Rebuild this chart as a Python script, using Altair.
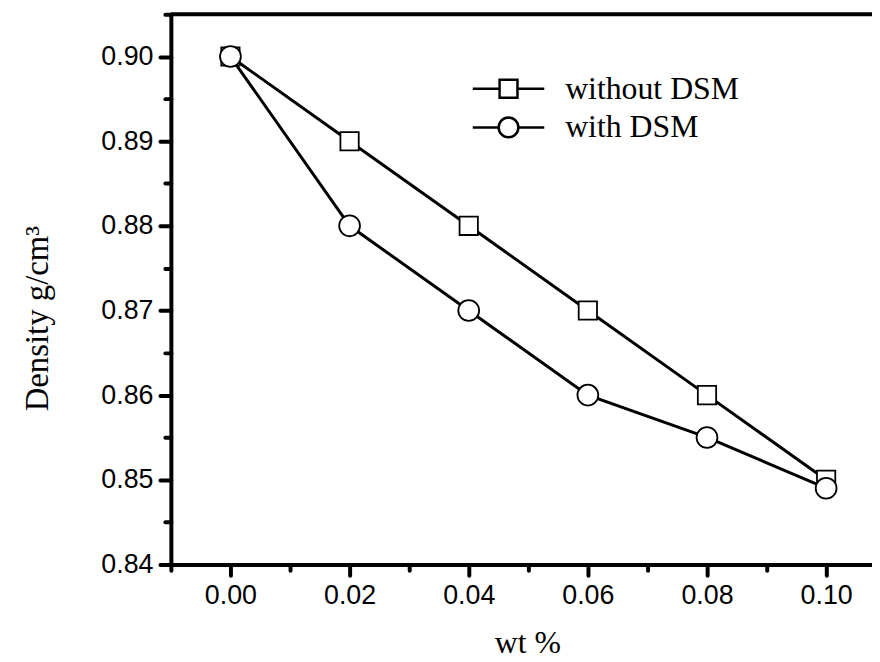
import altair as alt
import pandas as pd

# data
wt = [0.00, 0.02, 0.04, 0.06, 0.08, 0.10]
without_dsm = [0.900, 0.890, 0.880, 0.870, 0.860, 0.850]
with_dsm = [0.900, 0.880, 0.870, 0.860, 0.855, 0.849]
series_names = ["without DSM", "with DSM"]
x_ticks = [-0.01, 0.00, 0.01, 0.02, 0.03, 0.04, 0.05, 0.06, 0.07, 0.08, 0.09, 0.10]
y_ticks = [0.840, 0.845, 0.850, 0.855, 0.860, 0.865, 0.870, 0.875, 0.880,
           0.885, 0.890, 0.895, 0.900, 0.905]

rows = []
for name, vals in zip(series_names, [without_dsm, with_dsm]):
    for x, y in zip(wt, vals):
        rows.append({"wt": x, "density": y, "series": name})
df = pd.DataFrame(rows)

W, H = 706, 554

x_major = "abs(round(datum.value*100)) % 2 == 0"
y_major = "round(datum.value*1000) % 10 == 0"

x_axis = alt.Axis(
    values=x_ticks,
    labelExpr=f"{x_major} ? format(datum.value, '.2f') : ''",
    tickSize={"condition": {"test": x_major, "value": 11}, "value": 6},
    title="wt %",
    titleX=359, titleY=89, titleBaseline="alphabetic", titleAlign="center",
    titleFontSize=32,
    labelPadding=7,
)
y_axis = alt.Axis(
    values=y_ticks,
    labelExpr=f"{y_major} ? format(datum.value, '.2f') : ''",
    tickSize={"condition": {"test": y_major, "value": 11}, "value": 6},
    title="Density g/cm³",
    titleX=-117, titleY=306, titleAngle=270, titleAlign="center", titleBaseline="bottom",
    titleFontSize=33,
    labelPadding=7,
)

xs = alt.Scale(domain=[-0.01, 0.1077], nice=False, zero=False)
ys = alt.Scale(domain=[0.84, 0.905], nice=False, zero=False)

base = alt.Chart(df)

lines = base.mark_line(color="black", strokeWidth=3).encode(
    x=alt.X("wt:Q", scale=xs, axis=x_axis),
    y=alt.Y("density:Q", scale=ys, axis=y_axis),
    detail="series:N",
)

points = base.mark_point(filled=True, fill="white", stroke="black", strokeWidth=1.8, opacity=1).encode(
    x=alt.X("wt:Q", scale=xs),
    y=alt.Y("density:Q", scale=ys),
    shape=alt.Shape("series:N", scale=alt.Scale(domain=series_names, range=["square", "circle"]), legend=None),
    size=alt.Size("series:N", scale=alt.Scale(domain=series_names, range=[340, 440]), legend=None),
)

legend_paths = [
    "M-4,0H-1M1,0H4M-1,-1H1V1H-1Z",
    "M-4,0H-1.1M1.1,0H4M1.1,0A1.1,1.1 0 1,1 -1.1,0A1.1,1.1 0 1,1 1.1,0Z",
]

legend_layer = base.transform_filter("false").mark_point(
    filled=False, stroke="black", strokeWidth=2.5, opacity=1
).encode(
    x=alt.X("wt:Q", scale=xs),
    y=alt.Y("density:Q", scale=ys),
    shape=alt.Shape(
        "series:N",
        scale=alt.Scale(domain=series_names, range=legend_paths),
        legend=alt.Legend(
            orient="none", legendX=324, legendY=59, title=None,
            symbolSize=324, symbolStrokeWidth=2.5, symbolStrokeColor="black",
            symbolOpacity=1,
            labelFont="Liberation Serif", labelFontSize=32, labelColor="black",
            labelLimit=400,
            labelOffset=41, rowPadding=7, padding=0,
        ),
    ),
)

top_rule = alt.Chart(pd.DataFrame({"a": [0]})).mark_rule(color="black", strokeWidth=4).encode(
    x=alt.value(0), x2=alt.value(W), y=alt.value(0)
)

chart = alt.layer(lines, points, legend_layer, top_rule).resolve_scale(
    shape="independent"
).properties(
    width=W, height=H,
    autosize=alt.AutoSizeParams(type="none"),
    padding={"left": 164, "top": 4, "right": 0, "bottom": 96},
).configure_view(stroke=None).configure_axis(
    grid=False,
    domainColor="black", domainWidth=4,
    tickColor="black", tickWidth=4, tickCap="round",
    labelFont="Liberation Sans", labelFontSize=27, labelColor="black",
    titleFont="Liberation Serif", titleFontWeight="normal", titleColor="black",
)

chart.save("out.html", embed_options={"renderer": "svg", "actions": False})
